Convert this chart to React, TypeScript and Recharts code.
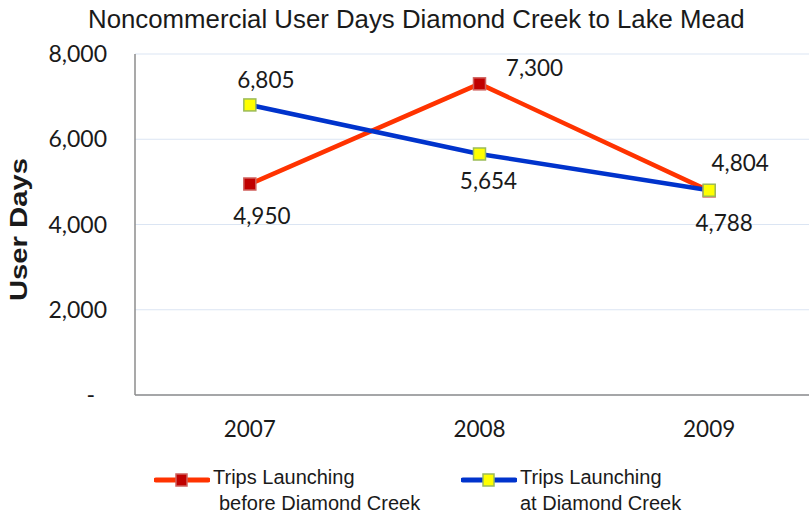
import React from 'react';
import { LineChart, Line, XAxis, YAxis, CartesianGrid, LabelList } from 'recharts';

const YEARS = ['2007', '2008', '2009'];
const BEFORE_DIAMOND = [4950, 7300, 4788];
const AT_DIAMOND = [6805, 5654, 4804];
const Y_TICKS = [0, 2000, 4000, 6000, 8000];

const TITLE = 'Noncommercial User Days Diamond Creek to Lake Mead';
const SERIES_NAMES = [
  ['Trips Launching', 'before Diamond Creek'],
  ['Trips Launching', 'at Diamond Creek'],
];

// where each data label sits relative to its marker (Excel put them by hand)
const BEFORE_LABEL_OFFSETS = [
  [12, 40],
  [55, -8],
  [15, 40],
];
const AT_LABEL_OFFSETS = [
  [16, -17],
  [9, 35],
  [31, -19],
];

const RED_LINE = '#ff3300';
const BLUE_LINE = '#0033cc';
const NUM_FONT = 'Lato, "Open Sans", sans-serif';
const ARIAL = '"Liberation Sans", Arial, sans-serif';

const data = YEARS.map((year, i) => ({
  year,
  before: BEFORE_DIAMOND[i],
  at: AT_DIAMOND[i],
}));

const fmt = (v: number) => (v === 0 ? '-' : v.toLocaleString('en-US'));

function SquareDot({ cx, cy, fill, stroke }: any) {
  if (cx == null || cy == null) return null;
  return <rect x={cx - 6} y={cy - 6} width={12} height={12} fill={fill} stroke={stroke} strokeWidth={1.5} />;
}

function YTick({ x, y, payload }: any) {
  const isZero = payload.value === 0;
  return (
    <text x={isZero ? x - 12 : x} y={y} dy={8} textAnchor="end" fontFamily={NUM_FONT} fontSize={23} fill="#1a1a1a">
      {fmt(payload.value)}
    </text>
  );
}

function makeLabel(offsets: number[][]) {
  return (props: any) => {
    const { x, y, value, index } = props;
    const [dx, dy] = offsets[index] || [0, 0];
    return (
      <text x={x + dx} y={y + dy} textAnchor="middle" fontFamily={NUM_FONT} fontSize={22.5} fill="#1a1a1a">
        {fmt(value)}
      </text>
    );
  };
}

function LegendItem({ color, fill, stroke, lines, indent }: any) {
  return (
    <div style={{ display: 'flex', alignItems: 'flex-start' }}>
      <svg width={56} height={20} style={{ marginTop: 7 }}>
        <line x1={2} y1={9} x2={54} y2={9} stroke={color} strokeWidth={5} strokeLinecap="round" />
        <rect x={22} y={3} width={11} height={12} fill={fill} stroke={stroke} strokeWidth={1.5} />
      </svg>
      <div style={{ fontFamily: ARIAL, fontSize: 20, lineHeight: '26px', color: '#1a1a1a', marginLeft: 3 }}>
        <div>{lines[0]}</div>
        <div style={{ paddingLeft: indent }}>{lines[1]}</div>
      </div>
    </div>
  );
}

export default function App() {
  return (
    <div style={{ position: 'fixed', left: 0, top: 0, width: 809, height: 514, overflow: 'hidden', background: '#fff' }}>
      <div
        style={{
          position: 'absolute',
          left: 88,
          top: 5,
          fontFamily: ARIAL,
          fontSize: 25.8,
          color: '#1a1a1a',
          whiteSpace: 'nowrap',
        }}
      >
        {TITLE}
      </div>
      <LineChart width={830} height={514} data={data} margin={{ top: 54, right: 6, bottom: 89, left: 20 }}>
        <CartesianGrid vertical={false} stroke="#dbe5f3" />
        <XAxis
          dataKey="year"
          scale="band"
          axisLine={{ stroke: '#8c8c8c', strokeWidth: 1.5 }}
          tickLine={false}
          tickMargin={20}
          tick={{ fontFamily: NUM_FONT, fontSize: 22.5, fill: '#1a1a1a' }}
        />
        <YAxis
          domain={[0, 8000]}
          ticks={Y_TICKS}
          width={115}
          axisLine={{ stroke: '#8c8c8c', strokeWidth: 1.5 }}
          tickLine={false}
          tickMargin={22}
          tick={<YTick />}
          label={{
            content: (p: any) => {
              const vb = p.viewBox || { x: 20, y: 54, height: 341 };
              const lx = vb.x + 7;
              const ly = vb.y + vb.height / 2 + 5;
              // the source picture stretches this title along its length
              return (
                <text
                  x={0}
                  y={0}
                  textAnchor="middle"
                  transform={`translate(${lx}, ${ly}) rotate(-90) scale(1.22, 1)`}
                  fontFamily={ARIAL}
                  fontWeight="bold"
                  fontSize={24}
                  fill="#1a1a1a"
                >
                  User Days
                </text>
              );
            },
          }}
        />
        <Line
          dataKey="before"
          stroke={RED_LINE}
          strokeWidth={4.5}
          dot={<SquareDot fill="#c00000" stroke="#d0605c" />}
          activeDot={false}
          isAnimationActive={false}
        >
          <LabelList dataKey="before" content={makeLabel(BEFORE_LABEL_OFFSETS)} />
        </Line>
        <Line
          dataKey="at"
          stroke={BLUE_LINE}
          strokeWidth={4.5}
          dot={<SquareDot fill="#ffff00" stroke="#9bbb59" />}
          activeDot={false}
          isAnimationActive={false}
        >
          <LabelList dataKey="at" content={makeLabel(AT_LABEL_OFFSETS)} />
        </Line>
      </LineChart>
      <div style={{ position: 'absolute', left: 154, top: 464 }}>
        <LegendItem color={RED_LINE} fill="#c00000" stroke="#d0605c" lines={SERIES_NAMES[0]} indent={6} />
      </div>
      <div style={{ position: 'absolute', left: 461, top: 464 }}>
        <LegendItem color={BLUE_LINE} fill="#ffff00" stroke="#9bbb59" lines={SERIES_NAMES[1]} indent={0} />
      </div>
    </div>
  );
}
